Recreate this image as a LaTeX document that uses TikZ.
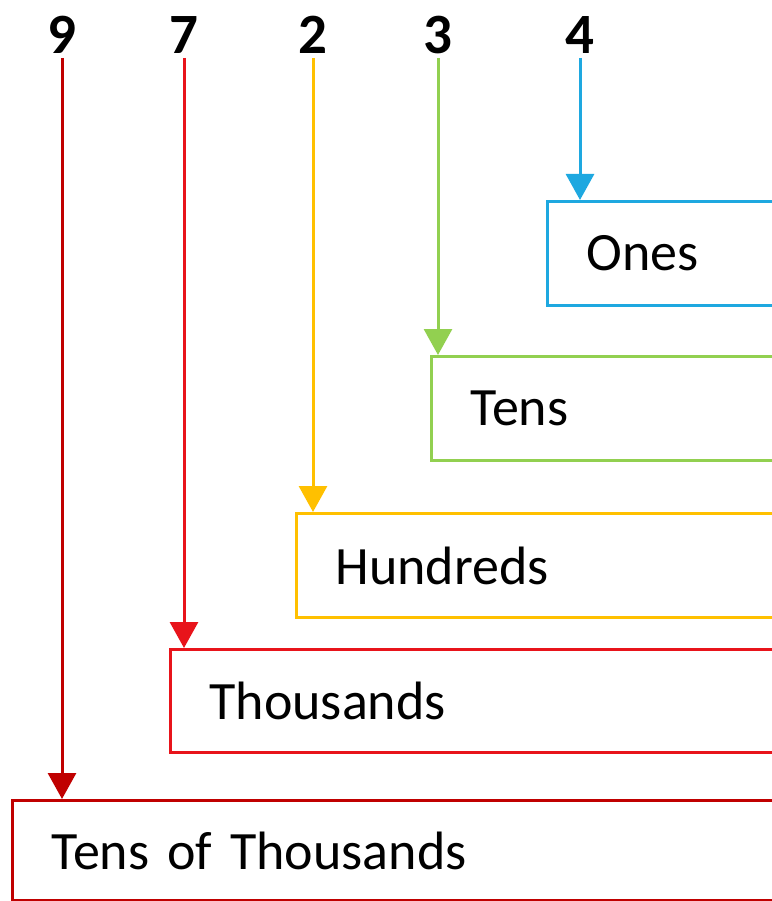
\documentclass[tikz,border=0pt]{standalone}
\usepackage{fontspec}
\setmainfont{Carlito}
\usetikzlibrary{arrows.meta}
\definecolor{cBlue}{HTML}{1EA8E0}
\definecolor{cGreen}{HTML}{92D050}
\definecolor{cGold}{HTML}{FFC000}
\definecolor{cRed}{HTML}{E8141B}
\definecolor{cDark}{HTML}{C00000}
\begin{document}
\begin{tikzpicture}[x=1pt,y=1pt,
  digit/.style={font=\fontsize{57}{57}\selectfont\bfseries, inner sep=0pt, outer sep=4pt, anchor=base},
  placebox/.style={draw=#1, line width=3pt, anchor=north west, minimum height=104pt,
    text width=900pt, align=left, inner xsep=39pt, inner ysep=0pt,
    font=\fontsize{54}{54}\selectfont, fill=white},
  conn/.style={draw=#1, line width=3pt, -{Triangle[width=28pt,length=26pt]}, color=#1}
]
\useasboundingbox (0,0) rectangle (771,-901);
% boxes
\node[placebox=cBlue] (ones) at (546,-200) {Ones};
\node[placebox=cGreen] (tens) at (430,-355) {Tens};
\node[placebox=cGold] (hund) at (295,-512) {Hundreds};
\node[placebox=cRed, minimum height=103pt] (thou) at (169,-648) {Thousands};
\node[placebox=cDark, minimum height=100pt] (tthou) at (11,-799) {Tens of Thousands};
% digits
\node[digit] (d9) at (62,-54) {9};
\node[digit] (d7) at (184,-54) {7};
\node[digit] (d2) at (313,-54) {2};
\node[digit] (d3) at (438,-54) {3};
\node[digit] (d4) at (580,-54) {4};
% connectors
\draw[conn=cDark] (d9.south) -- (d9.south |- tthou.north);
\draw[conn=cRed] (d7.south) -- (d7.south |- thou.north);
\draw[conn=cGold] (d2.south) -- (d2.south |- hund.north);
\draw[conn=cGreen] (d3.south) -- (d3.south |- tens.north);
\draw[conn=cBlue] (d4.south) -- (d4.south |- ones.north);
\end{tikzpicture}
\end{document}
